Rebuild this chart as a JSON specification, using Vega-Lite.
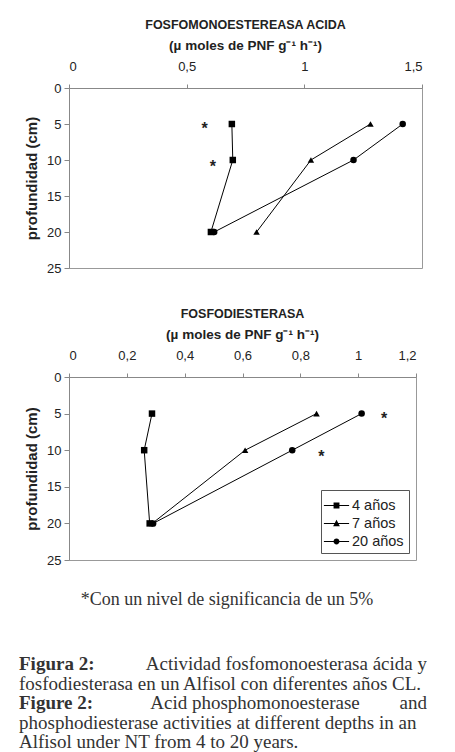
{
  "$schema": "https://vega.github.io/schema/vega-lite/v6.json",
  "background": "white",
  "padding": {"left": 19, "top": 18, "right": 0, "bottom": 0},
  "spacing": 23,
  "config": {
    "font": "Liberation Sans",
    "view": {"stroke": "#999", "strokeWidth": 1},
    "axis": {"grid": false, "domainColor": "#888", "tickColor": "#888", "labelColor": "#222", "labelFont": "Liberation Sans", "labelFontSize": 13, "labelOverlap": false, "titleColor": "#222", "titleFont": "Liberation Sans"}
  },
  "datasets": {
    "acida": [
      {"serie": "4 años", "prof": 5, "valor": 0.692},
      {"serie": "4 años", "prof": 10, "valor": 0.696},
      {"serie": "4 años", "prof": 20, "valor": 0.603},
      {"serie": "7 años", "prof": 5, "valor": 1.281},
      {"serie": "7 años", "prof": 10, "valor": 1.028},
      {"serie": "7 años", "prof": 20, "valor": 0.797},
      {"serie": "20 años", "prof": 5, "valor": 1.418},
      {"serie": "20 años", "prof": 10, "valor": 1.209},
      {"serie": "20 años", "prof": 20, "valor": 0.617}
    ],
    "ast_acida": [
      {"prof": 5, "valor": 0.576, "marca": "*"},
      {"prof": 10.3, "valor": 0.611, "marca": "*"}
    ],
    "diest": [
      {"serie": "4 años", "prof": 5, "valor": 0.287},
      {"serie": "4 años", "prof": 10, "valor": 0.260},
      {"serie": "4 años", "prof": 20, "valor": 0.279},
      {"serie": "7 años", "prof": 5, "valor": 0.856},
      {"serie": "7 años", "prof": 10, "valor": 0.609},
      {"serie": "7 años", "prof": 20, "valor": 0.288},
      {"serie": "20 años", "prof": 5, "valor": 1.012},
      {"serie": "20 años", "prof": 10, "valor": 0.772},
      {"serie": "20 años", "prof": 20, "valor": 0.291}
    ],
    "ast_diest": [
      {"prof": 5.1, "valor": 1.09, "marca": "*"},
      {"prof": 10.2, "valor": 0.873, "marca": "*"}
    ],
    "texto": [
      {"linea": "1", "col": "centro", "parte": "nota", "texto": "*Con un nivel de significancia de un 5%"},
      {"linea": "1", "col": "izq", "parte": "etiqueta", "texto": "Figura 2:"},
      {"linea": "1", "col": "der", "parte": "fin", "texto": "Actividad fosfomonoesterasa ácida y"},
      {"linea": "2", "col": "izq", "parte": "cuerpo", "texto": "fosfodiesterasa en un Alfisol con diferentes años CL."},
      {"linea": "3", "col": "izq", "parte": "etiqueta", "texto": "Figure 2:"},
      {"linea": "3", "col": "centro", "parte": "medio", "texto": "Acid phosphomonoesterase"},
      {"linea": "3", "col": "der", "parte": "fin", "texto": "and"},
      {"linea": "4", "col": "izq", "parte": "cuerpo", "texto": "phosphodiesterase activities at different depths in an"},
      {"linea": "5", "col": "izq", "parte": "cuerpo", "texto": "Alfisol under NT from 4 to 20 years."}
    ]
  },
  "vconcat": [
    {
      "spacing": 31,
      "vconcat": [
        {
          "width": 353,
          "height": 180,
          "title": {"text": "FOSFOMONOESTEREASA ACIDA", "subtitle": "(µ moles de PNF g⁻¹ h⁻¹)", "font": "Liberation Sans", "fontSize": 12.5, "fontWeight": "bold", "color": "#222", "subtitleFont": "Liberation Sans", "subtitleFontSize": 13.5, "subtitleFontWeight": "bold", "subtitleColor": "#222", "subtitlePadding": 7, "offset": 8, "frame": "group", "anchor": "middle"},
          "layer": [
            {
              "data": {"name": "acida"},
              "mark": {"type": "line", "color": "black", "strokeWidth": 1},
              "encoding": {
                "x": {"field": "valor", "type": "quantitative", "scale": {"domain": [0, 1.5], "nice": false}, "axis": {"orient": "top", "values": [0, 0.5, 1, 1.5], "tickCount": 10, "title": null, "labelExpr": "replace(toString(datum.value), '.', ',')", "tickSize": 4, "labelPadding": 11, "labelOverlap": false}},
                "y": {"field": "prof", "type": "quantitative", "scale": {"domain": [0, 25], "reverse": true, "nice": false}, "axis": {"values": [0, 5, 10, 15, 20, 25], "tickCount": 10, "title": "profundidad (cm)", "titleFontSize": 15, "titleFontWeight": "bold", "titlePadding": 7, "tickSize": 5, "labelPadding": 3, "labelOverlap": false, "labelBound": false, "labelFlush": false}},
                "detail": {"field": "serie"},
                "order": {"field": "prof", "type": "quantitative"}
              }
            },
            {
              "data": {"name": "acida"},
              "mark": {"type": "point", "filled": true, "color": "black", "opacity": 1, "size": 42},
              "encoding": {
                "x": {"field": "valor", "type": "quantitative"},
                "y": {"field": "prof", "type": "quantitative"},
                "shape": {"field": "serie", "type": "nominal", "scale": {"domain": ["4 años", "7 años", "20 años"], "range": ["square", "triangle-up", "circle"]}, "legend": null}
              }
            },
            {
              "data": {"name": "ast_acida"},
              "mark": {"type": "text", "fontSize": 16, "fontWeight": "bold", "color": "#222", "baseline": "middle", "dy": 5},
              "encoding": {
                "x": {"field": "valor", "type": "quantitative"},
                "y": {"field": "prof", "type": "quantitative"},
                "text": {"field": "marca"}
              }
            }
          ]
        },
        {
          "width": 347,
          "height": 183,
          "title": {"text": "FOSFODIESTERASA", "subtitle": "(µ moles de PNF g⁻¹ h⁻¹)", "font": "Liberation Sans", "fontSize": 12.5, "fontWeight": "bold", "color": "#222", "subtitleFont": "Liberation Sans", "subtitleFontSize": 13.5, "subtitleFontWeight": "bold", "subtitleColor": "#222", "subtitlePadding": 7, "offset": 8, "frame": "group", "anchor": "middle"},
          "resolve": {"scale": {"shape": "independent"}, "legend": {"shape": "independent"}},
          "layer": [
            {
              "data": {"name": "diest"},
              "mark": {"type": "line", "color": "black", "strokeWidth": 1},
              "encoding": {
                "x": {"field": "valor", "type": "quantitative", "scale": {"domain": [0, 1.2], "nice": false}, "axis": {"orient": "top", "values": [0, 0.2, 0.4, 0.6, 0.8, 1, 1.2], "tickCount": 10, "title": null, "labelExpr": "replace(toString(datum.value), '.', ',')", "tickSize": 4, "labelPadding": 11, "labelOverlap": false}},
                "y": {"field": "prof", "type": "quantitative", "scale": {"domain": [0, 25], "reverse": true, "nice": false}, "axis": {"values": [0, 5, 10, 15, 20, 25], "tickCount": 10, "title": "profundidad (cm)", "titleFontSize": 15, "titleFontWeight": "bold", "titlePadding": 7, "tickSize": 5, "labelPadding": 3, "labelOverlap": false, "labelBound": false, "labelFlush": false}},
                "detail": {"field": "serie"},
                "order": {"field": "prof", "type": "quantitative"}
              }
            },
            {
              "data": {"name": "diest"},
              "mark": {"type": "point", "filled": true, "color": "black", "opacity": 1, "size": 42},
              "encoding": {
                "x": {"field": "valor", "type": "quantitative"},
                "y": {"field": "prof", "type": "quantitative"},
                "shape": {"field": "serie", "type": "nominal", "scale": {"domain": ["4 años", "7 años", "20 años"], "range": ["square", "triangle-up", "circle"]}, "legend": null}
              }
            },
            {
              "data": {"name": "diest"},
              "mark": {"type": "point", "filled": true, "color": "black", "opacity": 0},
              "encoding": {
                "x": {"field": "valor", "type": "quantitative"},
                "y": {"field": "prof", "type": "quantitative"},
                "shape": {
                  "field": "serie", "type": "nominal",
                  "scale": {"domain": ["4 años", "7 años", "20 años"], "range": [
                    "M-1.2,-0.05H1.2V0.05H-1.2ZM-0.28,-0.28H0.28V0.28H-0.28Z",
                    "M-1.2,-0.05H1.2V0.05H-1.2ZM0,-0.36L0.32,0.25H-0.32Z",
                    "M-1.2,-0.05H1.2V0.05H-1.2ZM0.28,0A0.28,0.28,0,1,1,-0.28,0A0.28,0.28,0,1,1,0.28,0Z"
                  ]},
                  "legend": {"title": null, "orient": "bottom-right", "offset": 7, "strokeColor": "#555", "padding": 5, "labelFont": "Liberation Sans", "labelFontSize": 14.5, "labelColor": "#222", "labelOffset": 5, "rowPadding": 1, "symbolSize": 441, "symbolStrokeWidth": 0, "symbolFillColor": "black", "symbolStrokeColor": "black", "symbolOpacity": 1, "fillColor": "white"}
                }
              }
            },
            {
              "data": {"name": "ast_diest"},
              "mark": {"type": "text", "fontSize": 16, "fontWeight": "bold", "color": "#222", "baseline": "middle", "dy": 5},
              "encoding": {
                "x": {"field": "valor", "type": "quantitative"},
                "y": {"field": "prof", "type": "quantitative"},
                "text": {"field": "marca"}
              }
            }
          ]
        }
      ]
    },
    {
      "width": 347,
      "height": 78,
      "view": {"stroke": null},
      "data": {"name": "texto"},
      "encoding": {
        "x": {"field": "col", "type": "nominal", "scale": {"type": "point", "domain": ["izq", "centro", "der"], "range": [-50, 358], "padding": 0}, "axis": null},
        "y": {"field": "linea", "type": "ordinal", "scale": {"type": "point", "domain": ["1", "2", "3", "4", "5"], "padding": 0}, "axis": null},
        "text": {"field": "texto"}
      },
      "layer": [
        {"transform": [{"filter": "datum.parte == 'nota'"}], "mark": {"type": "text", "font": "Liberation Serif", "fontSize": 18, "color": "#333", "align": "center", "baseline": "middle", "dx": 4, "dy": -64}},
        {"transform": [{"filter": "datum.parte == 'etiqueta'"}], "mark": {"type": "text", "font": "Liberation Serif", "fontSize": 19, "fontWeight": "bold", "color": "#333", "align": "left", "baseline": "middle"}},
        {"transform": [{"filter": "datum.parte == 'cuerpo'"}], "mark": {"type": "text", "font": "Liberation Serif", "fontSize": 19, "color": "#333", "align": "left", "baseline": "middle"}},
        {"transform": [{"filter": "datum.parte == 'fin'"}], "mark": {"type": "text", "font": "Liberation Serif", "fontSize": 19, "color": "#333", "align": "right", "baseline": "middle"}},
        {"transform": [{"filter": "datum.parte == 'medio'"}], "mark": {"type": "text", "font": "Liberation Serif", "fontSize": 19, "color": "#333", "align": "center", "baseline": "middle", "dx": 32}}
      ]
    }
  ]
}
